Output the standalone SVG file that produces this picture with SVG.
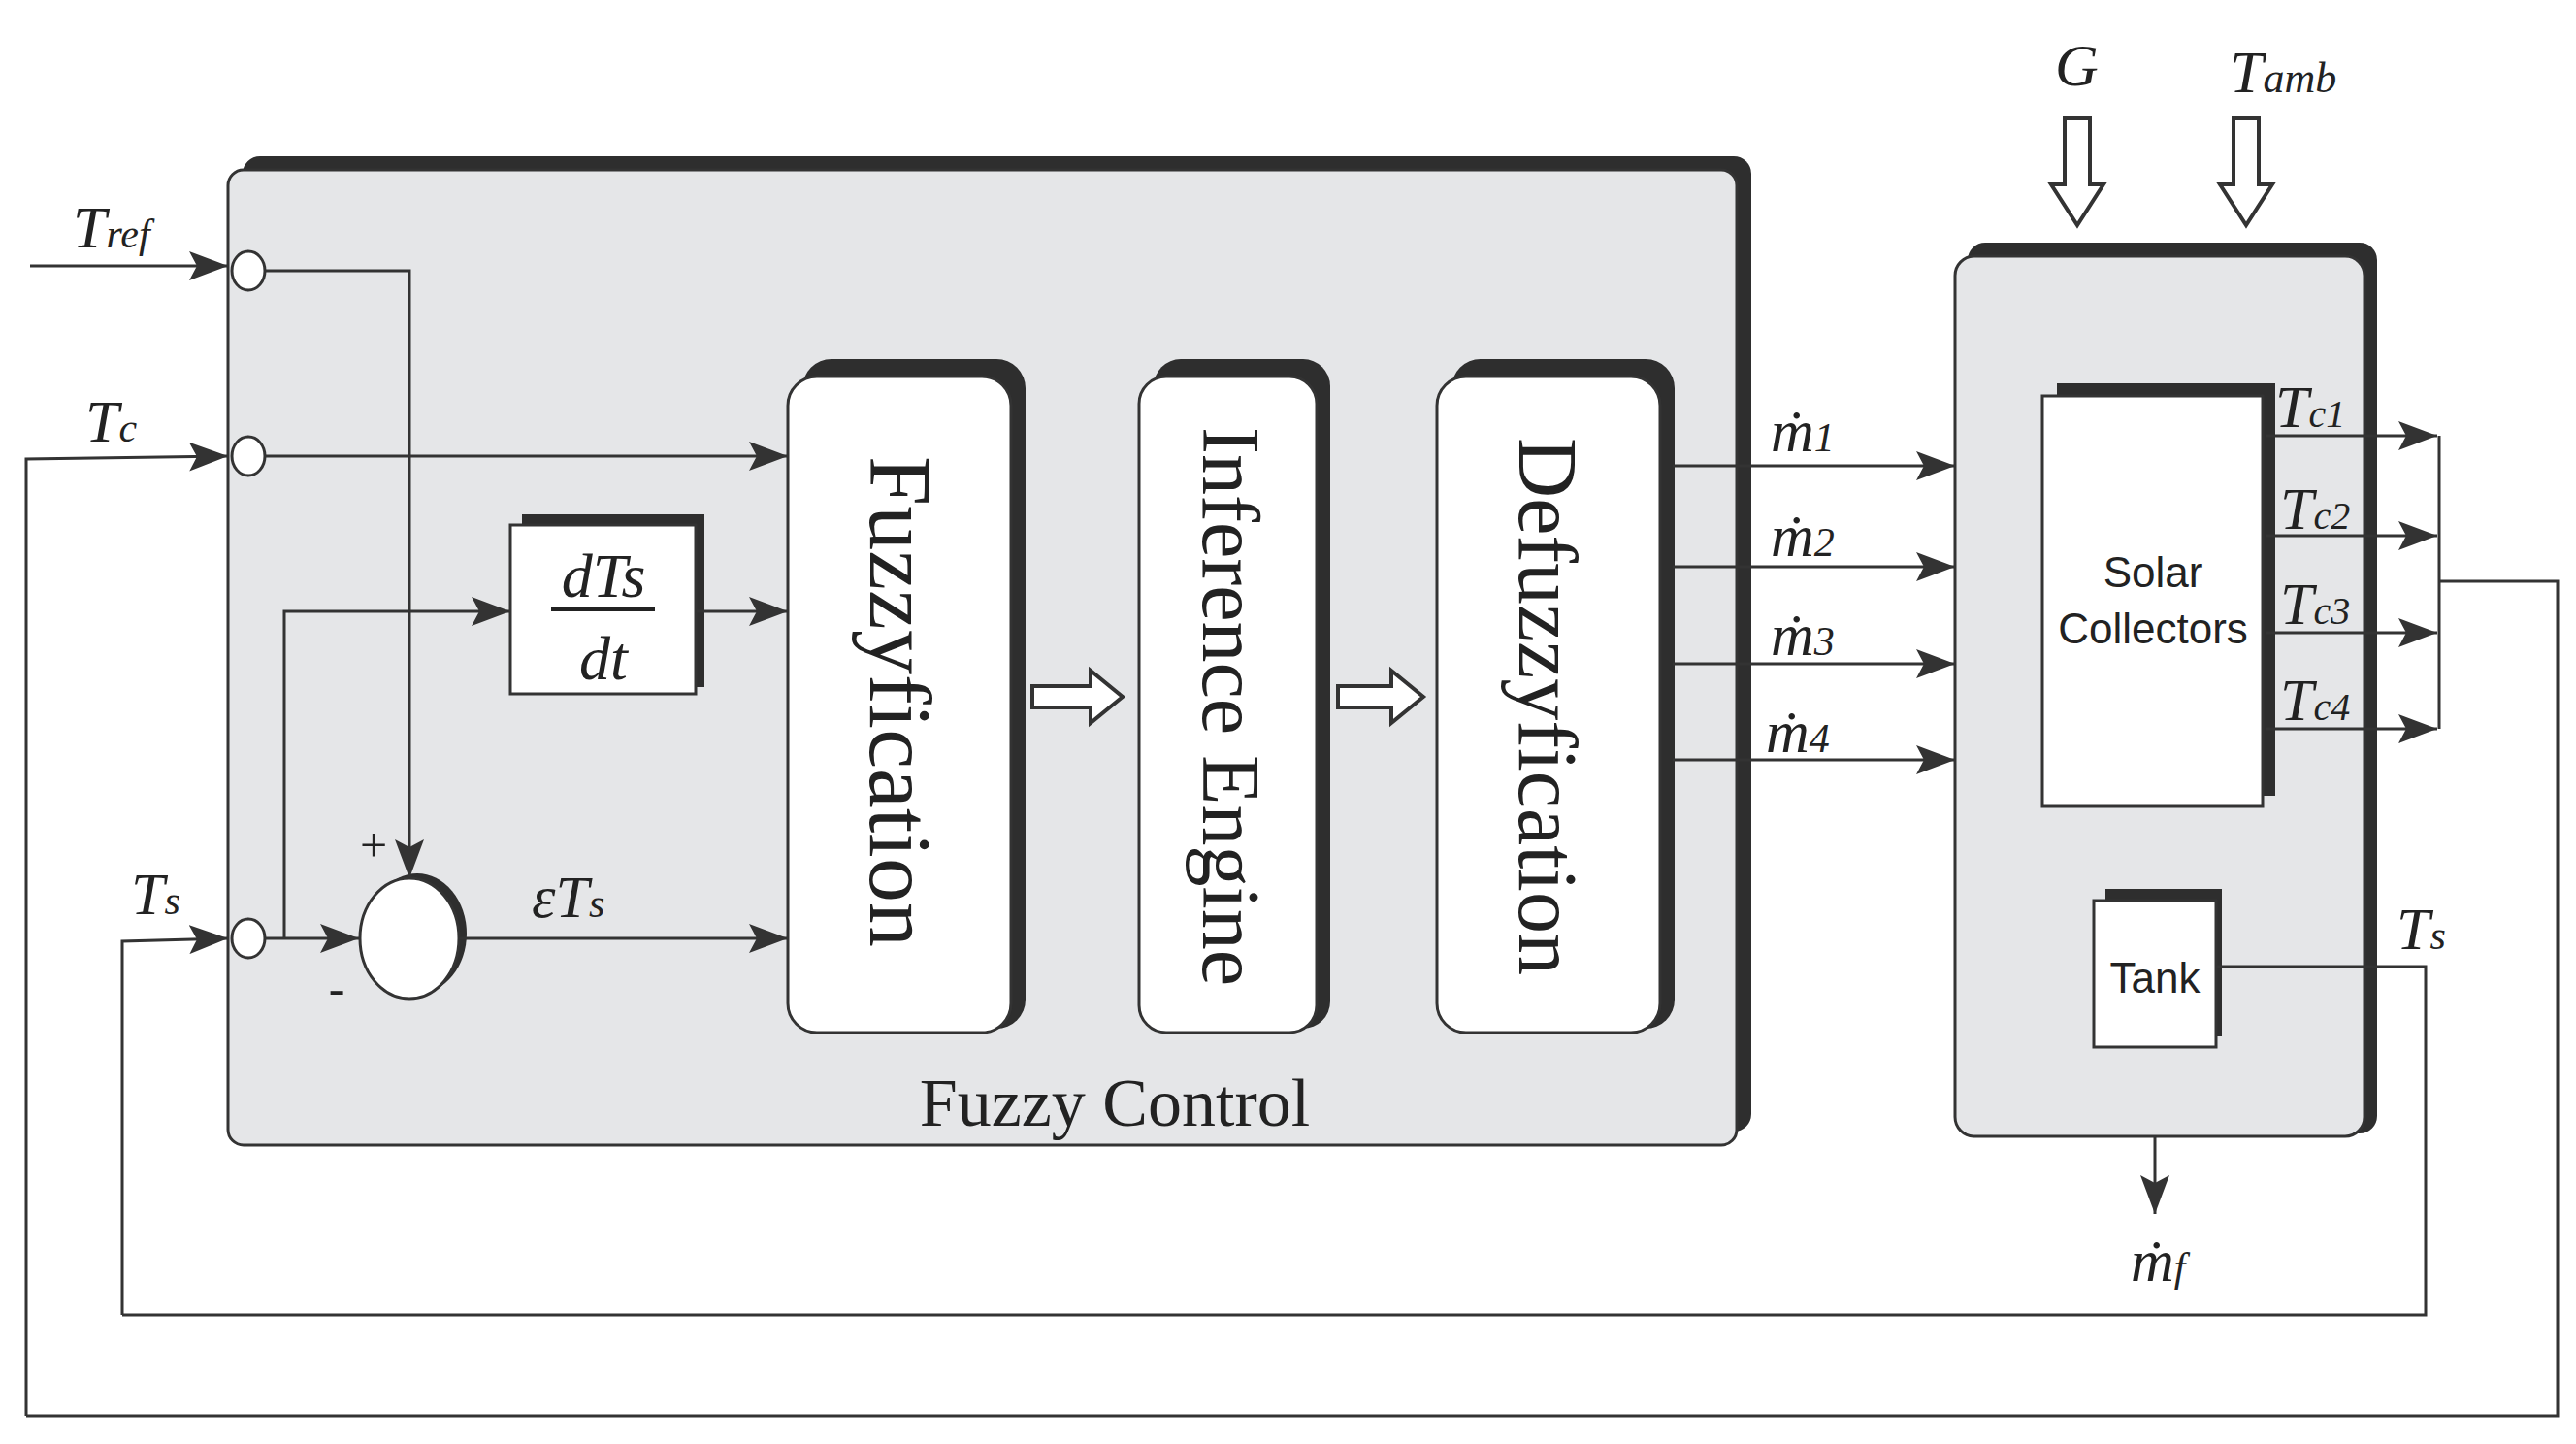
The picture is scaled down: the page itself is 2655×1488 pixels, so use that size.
<svg xmlns="http://www.w3.org/2000/svg" width="2655" height="1488" viewBox="0 0 2655 1488">
<style>
.ln{fill:none;stroke:#333;stroke-width:3}
.sh{fill:#2e2e2e}
.box{fill:#e5e6e8;stroke:#333;stroke-width:3}
.wb{fill:#fff;stroke:#333;stroke-width:3}
.it{font-family:"Liberation Serif",serif;font-style:italic;fill:#222}
.rm{font-family:"Liberation Serif",serif;fill:#222}
.sn{font-family:"Liberation Sans",sans-serif;fill:#222}
</style>
<defs>
<marker id="a" markerWidth="12" markerHeight="10" refX="11" refY="5" orient="auto" markerUnits="userSpaceOnUse" viewBox="0 0 12 10"><path d="M0,0 L12,5 L0,10 z" fill="#333"/></marker>
<marker id="b" markerWidth="40" markerHeight="30" refX="40" refY="15" orient="auto" markerUnits="userSpaceOnUse" viewBox="0 0 40 30"><path d="M0,0 L40,15 L0,30 L8,15 z" fill="#333"/></marker>
</defs>
<g id="fuzzy-control">
<rect x="250" y="161" width="1555" height="1005" rx="18" class="sh"/>
<rect x="235" y="175" width="1555" height="1005" rx="16" class="box"/>
<text x="1149" y="1160" font-size="70" text-anchor="middle" class="rm">Fuzzy Control</text>
</g>
<g id="plant">
<rect x="2028" y="250" width="422" height="918" rx="18" class="sh"/>
<rect x="2015" y="264" width="422" height="907" rx="20" class="box"/>
</g>
<g id="solar-collectors">
<rect x="2120" y="395" width="225" height="425" class="sh"/>
<rect x="2105" y="408" width="227" height="423" class="wb"/>
<text x="2219" y="605" font-size="44" text-anchor="middle" class="sn">Solar</text>
<text x="2219" y="663" font-size="44" text-anchor="middle" class="sn">Collectors</text>
</g>
<g id="tank">
<rect x="2170" y="916" width="120" height="152" class="sh"/>
<rect x="2158" y="928" width="126" height="151" class="wb"/>
<text x="2221" y="1023" font-size="44" text-anchor="middle" class="sn">Tank</text>
</g>
<g id="derivative">
<rect x="538" y="530" width="188" height="178" class="sh"/>
<rect x="526" y="541" width="191" height="174" class="wb"/>
<text x="622" y="615" font-size="64" text-anchor="middle" class="it">dTs</text>
<line x1="568" y1="628" x2="675" y2="628" stroke="#222" stroke-width="4"/>
<text x="622" y="700" font-size="64" text-anchor="middle" class="it">dt</text>
</g>
<g id="summer">
<ellipse cx="430" cy="962" rx="51" ry="62" class="sh"/>
<ellipse cx="422" cy="967" rx="51" ry="62" class="wb"/>
<text x="385" y="888" font-size="50" text-anchor="middle" class="rm">+</text>
<text x="347" y="1035" font-size="50" text-anchor="middle" class="rm">-</text>
</g>
<g id="fuzzyfication">
<rect x="827" y="370" width="230" height="690" rx="30" class="sh"/>
<rect x="812" y="388" width="230" height="676" rx="30" class="wb"/>
<text transform="translate(928,723) rotate(90)" font-size="92" text-anchor="middle" dominant-baseline="central" class="rm">Fuzzyfication</text>
</g>
<g id="inference">
<rect x="1189" y="370" width="182" height="690" rx="28" class="sh"/>
<rect x="1174" y="388" width="183" height="676" rx="28" class="wb"/>
<text transform="translate(1268,728) rotate(90)" font-size="84" text-anchor="middle" dominant-baseline="central" class="rm">Inference Engine</text>
</g>
<g id="defuzzyfication">
<rect x="1496" y="370" width="230" height="690" rx="30" class="sh"/>
<rect x="1481" y="388" width="230" height="676" rx="30" class="wb"/>
<text transform="translate(1595,728) rotate(90)" font-size="86" text-anchor="middle" dominant-baseline="central" class="rm">Defuzzyfication</text>
</g>
<g id="ports">
<ellipse cx="256" cy="279" rx="17" ry="20" class="wb"/>
<ellipse cx="256" cy="470" rx="17" ry="20" class="wb"/>
<ellipse cx="256" cy="967" rx="17" ry="20" class="wb"/>
</g>
<g id="connectors">
<line x1="31" y1="274" x2="235" y2="274" class="ln" marker-end="url(#b)"/>
<polyline points="27,1459 27,473 235,470" class="ln" marker-end="url(#b)"/>
<polyline points="126,1355 126,970 235,967" class="ln" marker-end="url(#b)"/>
<polyline points="273,279 422,279 422,905" class="ln" marker-end="url(#b)"/>
<line x1="273" y1="470" x2="812" y2="470" class="ln" marker-end="url(#b)"/>
<line x1="273" y1="967" x2="370" y2="967" class="ln" marker-end="url(#b)"/>
<polyline points="293,967 293,630 526,630" class="ln" marker-end="url(#b)"/>
<line x1="717" y1="630" x2="812" y2="630" class="ln" marker-end="url(#b)"/>
<line x1="473" y1="967" x2="812" y2="967" class="ln" marker-end="url(#b)"/>
<path d="M1064,707 h60 v-16 l33,27 -33,27 v-16 h-60 z" fill="#fff" stroke="#333" stroke-width="4"/>
<path d="M1379,707 h55 v-16 l33,27 -33,27 v-16 h-55 z" fill="#fff" stroke="#333" stroke-width="4"/>
<line x1="1724" y1="480" x2="2015" y2="480" class="ln" marker-end="url(#b)"/>
<line x1="1724" y1="584" x2="2015" y2="584" class="ln" marker-end="url(#b)"/>
<line x1="1724" y1="684" x2="2015" y2="684" class="ln" marker-end="url(#b)"/>
<line x1="1724" y1="783" x2="2015" y2="783" class="ln" marker-end="url(#b)"/>
<line x1="2335" y1="449" x2="2512" y2="449" class="ln" marker-end="url(#b)"/>
<line x1="2335" y1="552" x2="2512" y2="552" class="ln" marker-end="url(#b)"/>
<line x1="2335" y1="652" x2="2512" y2="652" class="ln" marker-end="url(#b)"/>
<line x1="2335" y1="751" x2="2512" y2="751" class="ln" marker-end="url(#b)"/>
<line x1="2514" y1="449" x2="2514" y2="751" class="ln"/>
<polyline points="2514,599 2636,599 2636,1459 27,1459" class="ln"/>
<polyline points="2284,996 2500,996 2500,1355 126,1355" class="ln"/>
<line x1="2221" y1="1171" x2="2221" y2="1251" class="ln" marker-end="url(#b)"/>
<path d="M2128,122 h26 v68 h14 l-27,42 -27,-42 h14 z" fill="#fff" stroke="#333" stroke-width="4"/>
<path d="M2302,122 h26 v68 h14 l-27,42 -27,-42 h14 z" fill="#fff" stroke="#333" stroke-width="4"/>
</g>
<g id="labels" font-size="62">
<text x="75" y="255" class="it">T<tspan font-size="42">ref</tspan></text>
<text x="88" y="455" class="it">T<tspan font-size="42">c</tspan></text>
<text x="135" y="942" class="it">T<tspan font-size="42">s</tspan></text>
<text x="548" y="945" class="it">εT<tspan font-size="42">s</tspan></text>
<text x="1825" y="465" class="it">ṁ<tspan font-size="42">1</tspan></text>
<text x="1825" y="573" class="it">ṁ<tspan font-size="42">2</tspan></text>
<text x="1825" y="675" class="it">ṁ<tspan font-size="42">3</tspan></text>
<text x="1820" y="775" class="it">ṁ<tspan font-size="42">4</tspan></text>
<text x="2345" y="440" class="it">T<tspan font-size="40">c1</tspan></text>
<text x="2350" y="545" class="it">T<tspan font-size="40">c2</tspan></text>
<text x="2350" y="643" class="it">T<tspan font-size="40">c3</tspan></text>
<text x="2350" y="742" class="it">T<tspan font-size="40">c4</tspan></text>
<text x="2470" y="978" class="it">T<tspan font-size="42">s</tspan></text>
<text x="2196" y="1320" class="it">ṁ<tspan font-size="42">f</tspan></text>
<text x="2118" y="88" class="it">G</text>
<text x="2298" y="95" class="it">T<tspan font-size="44">amb</tspan></text>
</g>
</svg>
